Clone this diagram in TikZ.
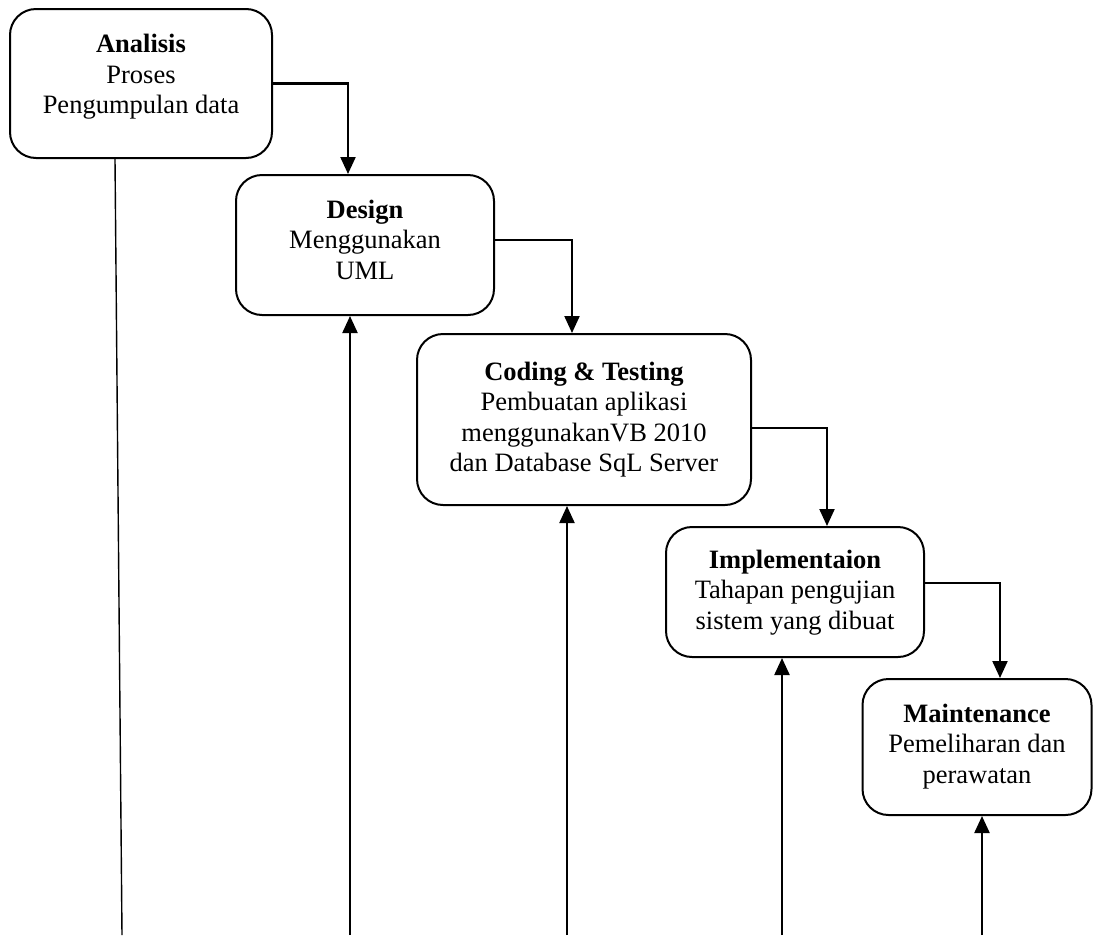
\documentclass[tikz,border=0pt]{standalone}
\usepackage{fontspec}
\setmainfont{Liberation Serif}
\usetikzlibrary{arrows.meta}
\begin{document}
\begin{tikzpicture}[x=1pt,y=-1pt,
  stagebox/.style={draw, line width=2pt, rounded corners=26pt, inner sep=0pt},
  stagetext/.style={anchor=base, inner sep=0pt, font=\fontsize{26.5}{30.5}\selectfont},
  flow/.style={line width=2.2pt, -{Triangle[length=17pt,width=15pt]}},
  plainline/.style={line width=1.4pt}]
\useasboundingbox (0,0) rectangle (1093,935);
\renewcommand{\arraystretch}{1}
\setlength{\tabcolsep}{0pt}

\node[stagebox, minimum width=262pt, minimum height=149pt] (a) at (141,83.5) {};
\node[stagebox, minimum width=258pt, minimum height=140pt] (d) at (365,245) {};
\node[stagebox, minimum width=334pt, minimum height=171pt] (c) at (584,419.5) {};
\node[stagebox, minimum width=258pt, minimum height=130pt] (i) at (795,592) {};
\node[stagebox, minimum width=229pt, minimum height=136pt] (m) at (977,747) {};

\node[stagetext] (at) at (141,52.5) {\begin{tabular}[t]{c}\textbf{Analisis}\\Proses\\Pengumpulan data\end{tabular}};
\node[stagetext] (dt) at (365,218) {\begin{tabular}[t]{c}\textbf{Design}\\Menggunakan\\UML\end{tabular}};
\node[stagetext] (ct) at (584,380) {\begin{tabular}[t]{c}\textbf{Coding \& Testing}\\Pembuatan aplikasi\\menggunakanVB 2010\\dan Database SqL Server\end{tabular}};
\node[stagetext] (it) at (795,568) {\begin{tabular}[t]{c}\textbf{Implementaion}\\Tahapan pengujian\\sistem yang dibuat\end{tabular}};
\node[stagetext] (mt) at (977,722) {\begin{tabular}[t]{c}\textbf{Maintenance}\\Pemeliharan dan\\perawatan\end{tabular}};

% cascade arrows
\draw[flow] (a.east) -| (348,0 |- d.north);
\draw[flow] (d.east |- 0,240) -| (572,0 |- c.north);
\draw[flow] (c.east |- 0,428) -| (827,0 |- i.north);
\draw[flow] (i.east |- 0,583) -| (1000,0 |- m.north);

% bottom lines
\coordinate (ea) at (122,935);
\coordinate (ed) at (350,935);
\coordinate (ec) at (567,935);
\coordinate (ei) at (782,935);
\coordinate (em) at (982,935);
\draw[plainline] (a.south -| 115,0) -- (ea);
\draw[flow] (ed) -- (ed |- d.south);
\draw[flow] (ec) -- (ec |- c.south);
\draw[flow] (ei) -- (ei |- i.south);
\draw[flow] (em) -- (em |- m.south);
\end{tikzpicture}
\end{document}
